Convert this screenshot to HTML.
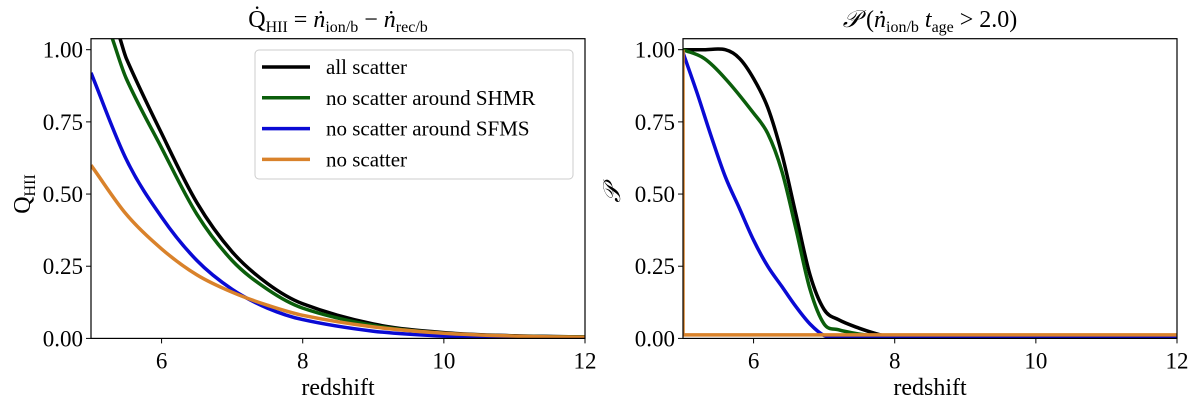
<!DOCTYPE html>
<html><head><meta charset="utf-8"><style>
body{margin:0;background:#fff;}
svg text{font-family:"Liberation Serif",serif;fill:#000;}
</style></head><body>
<svg id="chart" width="1200" height="411" xmlns="http://www.w3.org/2000/svg"></svg>
<script>
const xTicks=[6,8,10,12];
const yTicks=[0,0.25,0.5,0.75,1.0];
const yTickLabels=["0.00","0.25","0.50","0.75","1.00"];
const seriesNames=["all scatter","no scatter around SHMR","no scatter around SFMS","no scatter"];
const colors=["#000000","#0b5e0b","#0a0ad4","#d9822b"];
// left panel
const qBlackZ=[5.41,5.5,6,6.5,7,7.5,8,9,10,11,12];
const qBlackV=[1.04,0.97,0.71,0.47,0.30,0.19,0.12,0.05,0.02,0.009,0.005];
const qGreenZ=[5.3,5.5,6,6.5,7,7.5,8,9,10,11,12];
const qGreenV=[1.04,0.90,0.66,0.43,0.27,0.17,0.105,0.045,0.018,0.008,0.005];
const qBlueZ=[5,5.5,6,6.5,7,7.5,8,9,10,11,12];
const qBlueV=[0.92,0.62,0.42,0.27,0.17,0.105,0.065,0.025,0.008,0.003,0.001];
const qOrangeZ=[5,5.5,6,6.5,7,7.5,8,9,10,11,12];
const qOrangeV=[0.60,0.43,0.31,0.22,0.16,0.115,0.08,0.04,0.018,0.008,0.004];
// right panel
const pBlackZ=[5,5.3,5.6,5.8,6,6.2,6.4,6.6,6.8,7,7.2,7.5,7.8,8,8.5,9,10,11,12];
const pBlackV=[1.0,1.0,1.0,0.97,0.90,0.80,0.64,0.43,0.22,0.10,0.065,0.035,0.012,0.005,0.003,0.003,0.003,0.003,0.003];
const pGreenZ=[5,5.3,5.6,6,6.2,6.4,6.6,6.8,7,7.2,7.5,7.8,8,8.5,9,10,11,12];
const pGreenV=[1.0,0.97,0.90,0.78,0.71,0.58,0.38,0.17,0.05,0.03,0.015,0.006,0.003,0.003,0.003,0.003,0.003,0.003];
const pBlueZ=[5,5.2,5.4,5.6,5.8,6,6.2,6.4,6.6,6.8,7,7.2,7.5,8,9,10,11,12];
const pBlueV=[0.99,0.85,0.70,0.56,0.45,0.34,0.25,0.18,0.11,0.05,0.01,0.002,0.002,0.002,0.002,0.002,0.002,0.002];
const pOrangeZ=[5,5,12];
const pOrangeV=[1.0,0.012,0.012];

const NS="http://www.w3.org/2000/svg";
const svg=document.getElementById('chart');
function mk(tag,attrs,parent){const e=document.createElementNS(NS,tag);for(const k in attrs)e.setAttribute(k,attrs[k]);(parent||svg).appendChild(e);return e;}
const Y0=338.4,Y1=49.7;
function yS(v){return Y0+(Y1-Y0)*v;}
function makeX(l,r){return z=>l+(z-5)/7*(r-l);}
function smoothPath(pts){
  let d='M'+pts[0][0].toFixed(1)+','+pts[0][1].toFixed(1);
  for(let i=0;i<pts.length-1;i++){
    const p0=pts[Math.max(0,i-1)],p1=pts[i],p2=pts[i+1],p3=pts[Math.min(pts.length-1,i+2)];
    // tangent scaled by segment length to avoid overshoot
    const seg=p2[0]-p1[0];
    const m1=(p2[1]-p0[1])/((p2[0]-p0[0])||1), m2=(p3[1]-p1[1])/((p3[0]-p1[0])||1);
    const c1=[p1[0]+seg/3,p1[1]+m1*seg/3];
    const c2=[p2[0]-seg/3,p2[1]-m2*seg/3];
    d+='C'+c1[0].toFixed(1)+','+c1[1].toFixed(1)+' '+c2[0].toFixed(1)+','+c2[1].toFixed(1)+' '+p2[0].toFixed(1)+','+p2[1].toFixed(1);
  }
  return d;
}

function panel(l,r,id,series,ylab,ylx){
  const xS=makeX(l,r);
  const g=mk('g',{});
  
  
  const cp=mk('clipPath',{id:'cp'+id},g);
  mk('rect',{x:l,y:38.7,width:r-l,height:Y0-38.7},cp);
  series.forEach((s,i)=>{
    const pts=s.z.map((z,j)=>[xS(z),yS(s.v[j])]);
    const d=s.straight?pts.map((p,j)=>(j?'L':'M')+p[0].toFixed(1)+','+p[1].toFixed(1)).join(''):smoothPath(pts);
    const p=mk('path',{d:d,fill:'none',stroke:colors[i],'stroke-width':3.5,'stroke-linejoin':'round','clip-path':'url(#cp'+id+')'},g);
    
    
  });
  const fr=mk('rect',{x:l,y:38.7,width:r-l,height:Y0-38.7,fill:'none',stroke:'#000','stroke-width':1.2},g);
  
  
  xTicks.forEach(t=>{
    mk('line',{x1:xS(t),x2:xS(t),y1:Y0,y2:Y0+5,stroke:'#000'},g);
    const tx=mk('text',{x:xS(t),y:Y0+30,'font-size':23,'text-anchor':'middle'},g);
    tx.textContent=t;
    
    
  });
  yTicks.forEach((t,i)=>{
    mk('line',{x1:l-5,x2:l,y1:yS(t),y2:yS(t),stroke:'#000'},g);
    const tx=mk('text',{x:l-8,y:yS(t)+8,'font-size':23,'text-anchor':'end'},g);
    tx.textContent=yTickLabels[i];
    
    
  });
  const xl=mk('text',{x:(l+r)/2,y:395,'font-size':24,'text-anchor':'middle'},g);
  xl.textContent='redshift';
  
  
  const yl=mk('text',{x:0,y:0,'font-size':24,'text-anchor':'middle',transform:'translate('+ylx+',194) rotate(-90)'},g);
  yl.innerHTML=ylab;
  
  
  return xS;
}
panel(91,585,'left',[{z:qBlackZ,v:qBlackV},{z:qGreenZ,v:qGreenV},{z:qBlueZ,v:qBlueV},{z:qOrangeZ,v:qOrangeV}],'Q<tspan font-size="16" dy="5">HII</tspan>',30);
panel(683,1177,'right',[{z:pBlackZ,v:pBlackV},{z:pGreenZ,v:pGreenV},{z:pBlueZ,v:pBlueV},{z:pOrangeZ,v:pOrangeV,straight:true}],'<tspan font-style="italic">𝒫</tspan>',620);

const t1=mk('text',{x:338,y:27,'font-size':24,'text-anchor':'middle'});
t1.innerHTML='Q̇<tspan font-size="16" dy="5">HII</tspan><tspan dy="-5"> = </tspan><tspan font-style="italic">ṅ</tspan><tspan font-size="16" dy="5">ion/b</tspan><tspan dy="-5"> − </tspan><tspan font-style="italic">ṅ</tspan><tspan font-size="16" dy="5">rec/b</tspan>';


const t2=mk('text',{x:930,y:27,'font-size':24,'text-anchor':'middle'});
t2.innerHTML='<tspan font-style="italic">𝒫</tspan>  (<tspan font-style="italic">ṅ</tspan><tspan font-size="16" dy="5">ion/b</tspan><tspan dy="-5" font-style="italic"> t</tspan><tspan font-size="16" dy="5">age</tspan><tspan dy="-5">  &gt; 2.0)</tspan>';



// legend
const lg=mk('g',{});


mk('rect',{x:255,y:50,width:318,height:129,rx:4,fill:'#fff',stroke:'#ccc','stroke-width':1},lg);
seriesNames.forEach((n,i)=>{
  const y=67+i*30.8;
  const ln=mk('line',{x1:262,x2:310,y1:y,y2:y,stroke:colors[i],'stroke-width':3.5},lg);
  
  
  const tx=mk('text',{x:326,y:y+7,'font-size':21},lg);
  tx.textContent=n;
  
  
});
</script>
</body></html>
